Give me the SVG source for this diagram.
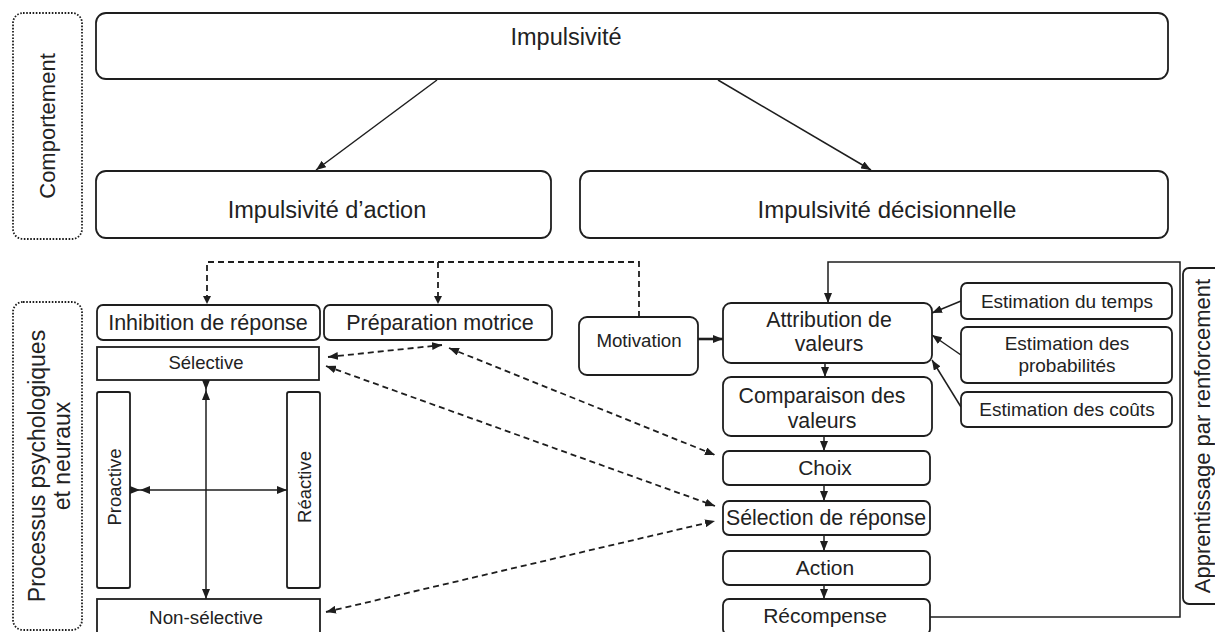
<svg xmlns="http://www.w3.org/2000/svg" width="1215" height="632" viewBox="0 0 1215 632">
<defs>
<marker id="ah" viewBox="0 0 10 8" refX="10" refY="4" markerWidth="10" markerHeight="8" markerUnits="userSpaceOnUse" orient="auto-start-reverse">
<path d="M0,0 L10,4 L0,8 Z" fill="#1e1e1e"/>
</marker>
</defs>
<style>
.box{fill:#fff;stroke:#1e1e1e;stroke-width:1.8}
.dot{fill:none;stroke:#1e1e1e;stroke-width:1.8;stroke-dasharray:1.6 1.6}
.t{font-family:"Liberation Sans",Arial,sans-serif;fill:#222;text-anchor:middle}
.c{fill:none;stroke:#1e1e1e;stroke-width:1.5}
.cs{fill:none;stroke:#1e1e1e;stroke-width:1.5;marker-end:url(#ah)}
.cd{fill:none;stroke:#1e1e1e;stroke-width:1.8;stroke-dasharray:6 4}
.cda{fill:none;stroke:#1e1e1e;stroke-width:1.8;stroke-dasharray:6 4;marker-end:url(#ah);marker-start:url(#ah)}
</style>
<rect width="1215" height="632" fill="#fff"/>

<g id="label-comportement">
<rect class="dot" x="13" y="13" width="69" height="226" rx="10"/>
<text class="t" font-size="22" transform="translate(55,126) rotate(-90)">Comportement</text>
</g>
<g id="label-processus">
<rect class="dot" x="13" y="302" width="69" height="328" rx="10"/>
<text class="t" font-size="23" transform="translate(45,466) rotate(-90)">Processus psychologiques</text>
<text class="t" font-size="23" transform="translate(70,456) rotate(-90)">et neuraux</text>
</g>

<g id="connectors">
<line class="cs" x1="437" y1="80" x2="316" y2="170"/>
<line class="cs" x1="718" y1="80" x2="871" y2="170"/>
<path class="cd" d="M639 317 V262 H207 V298"/>
<path class="cd" d="M438 262 V298"/>
<path d="M207 304 l-4 -8 h8 Z M438 304 l-4 -8 h8 Z" fill="#1e1e1e"/>
<line class="cda" x1="328" y1="357" x2="442" y2="345"/>
<line class="cda" x1="449" y1="348" x2="715" y2="455"/>
<line class="cda" x1="326" y1="366" x2="715" y2="506"/>
<line class="cda" x1="326" y1="612" x2="715" y2="521"/>
<line class="cs" x1="206" y1="390" x2="206" y2="599" marker-start="url(#ah)"/>
<line class="cs" x1="140" y1="490" x2="287" y2="490" marker-start="url(#ah)"/>
<line class="cs" x1="130" y1="490" x2="140" y2="490"/>
<line class="cs" x1="206" y1="380" x2="206" y2="390"/>
<line x1="698" y1="339" x2="723" y2="339" stroke="#1e1e1e" stroke-width="2.6" marker-end="url(#ah)"/>
<line class="cs" x1="825" y1="363" x2="825" y2="377"/>
<line class="cs" x1="824" y1="436" x2="824" y2="451"/>
<line class="cs" x1="824" y1="485" x2="824" y2="501"/>
<line class="cs" x1="824" y1="535" x2="824" y2="551"/>
<line class="cs" x1="824" y1="585" x2="824" y2="599"/>
<path class="cs" d="M930 617 H1180 V262 H828 V303" stroke-width="1.8"/>
<line class="cs" x1="961" y1="301" x2="932" y2="313"/>
<line class="cs" x1="961" y1="355" x2="932" y2="335"/>
<line class="cs" x1="961" y1="407" x2="932" y2="360"/>
</g>

<g id="impulsivite">
<rect class="box" x="96" y="13" width="1072" height="66" rx="10"/>
<text class="t" font-size="23.5" x="566" y="45">Impulsivité</text>
</g>
<g id="impulsivite-action">
<rect class="box" x="96" y="171" width="455" height="67" rx="10"/>
<text class="t" font-size="23.5" x="327" y="218">Impulsivité d’action</text>
</g>
<g id="impulsivite-decisionnelle">
<rect class="box" x="580" y="171" width="588" height="67" rx="10"/>
<text class="t" font-size="24" x="887" y="218">Impulsivité décisionnelle</text>
</g>

<g id="inhibition">
<rect class="box" x="97" y="305" width="223" height="35" rx="6"/>
<text class="t" font-size="21.5" x="208" y="330">Inhibition de réponse</text>
</g>
<g id="preparation">
<rect class="box" x="324" y="305" width="228" height="35" rx="6"/>
<text class="t" font-size="21.5" x="440" y="330">Préparation motrice</text>
</g>
<g id="selective">
<rect class="box" x="97" y="347" width="222" height="33"/>
<text class="t" font-size="18.5" x="206" y="369">Sélective</text>
</g>
<g id="proactive">
<rect class="box" x="97" y="392" width="33" height="196" rx="2"/>
<text class="t" font-size="18.5" transform="translate(121,487) rotate(-90)">Proactive</text>
</g>
<g id="reactive">
<rect class="box" x="287" y="392" width="33" height="196" rx="2"/>
<text class="t" font-size="18.5" transform="translate(311,487) rotate(-90)">Réactive</text>
</g>
<g id="non-selective">
<rect class="box" x="97" y="599" width="223" height="34"/>
<text class="t" font-size="18.8" x="206" y="624">Non-sélective</text>
</g>

<g id="motivation">
<rect class="box" x="579" y="317" width="119" height="58" rx="8"/>
<text class="t" font-size="18.7" x="639" y="347">Motivation</text>
</g>
<g id="attribution">
<rect class="box" x="723" y="303" width="209" height="60" rx="8"/>
<text class="t" font-size="21.3" x="829" y="327">Attribution de</text>
<text class="t" font-size="21.3" x="829" y="351">valeurs</text>
</g>
<g id="comparaison">
<rect class="box" x="723" y="377" width="209" height="59" rx="8"/>
<text class="t" font-size="21.3" x="822" y="403">Comparaison des</text>
<text class="t" font-size="21.3" x="822" y="428">valeurs</text>
</g>
<g id="choix">
<rect class="box" x="723" y="451" width="207" height="34" rx="6"/>
<text class="t" font-size="21" x="825" y="475">Choix</text>
</g>
<g id="selection">
<rect class="box" x="723" y="501" width="207" height="34" rx="6"/>
<text class="t" font-size="21.3" x="826" y="525">Sélection de réponse</text>
</g>
<g id="action">
<rect class="box" x="723" y="551" width="207" height="34" rx="6"/>
<text class="t" font-size="21" x="825" y="575">Action</text>
</g>
<g id="recompense">
<rect class="box" x="723" y="599" width="207" height="36" rx="6"/>
<text class="t" font-size="21" x="825" y="623">Récompense</text>
</g>

<g id="estimation-temps">
<rect class="box" x="961" y="283" width="211" height="36" rx="6"/>
<text class="t" font-size="19" x="1067" y="308">Estimation du temps</text>
</g>
<g id="estimation-probabilites">
<rect class="box" x="961" y="327" width="211" height="56" rx="6"/>
<text class="t" font-size="19" x="1067" y="350">Estimation des</text>
<text class="t" font-size="19" x="1067" y="372">probabilités</text>
</g>
<g id="estimation-couts">
<rect class="box" x="961" y="392" width="211" height="35" rx="6"/>
<text class="t" font-size="19" x="1067" y="416">Estimation des coûts</text>
</g>

<g id="apprentissage">
<rect class="box" x="1183" y="268" width="45" height="336" rx="6"/>
<text class="t" font-size="22" transform="translate(1210,436) rotate(-90)">Apprentissage par renforcement</text>
</g>
</svg>
